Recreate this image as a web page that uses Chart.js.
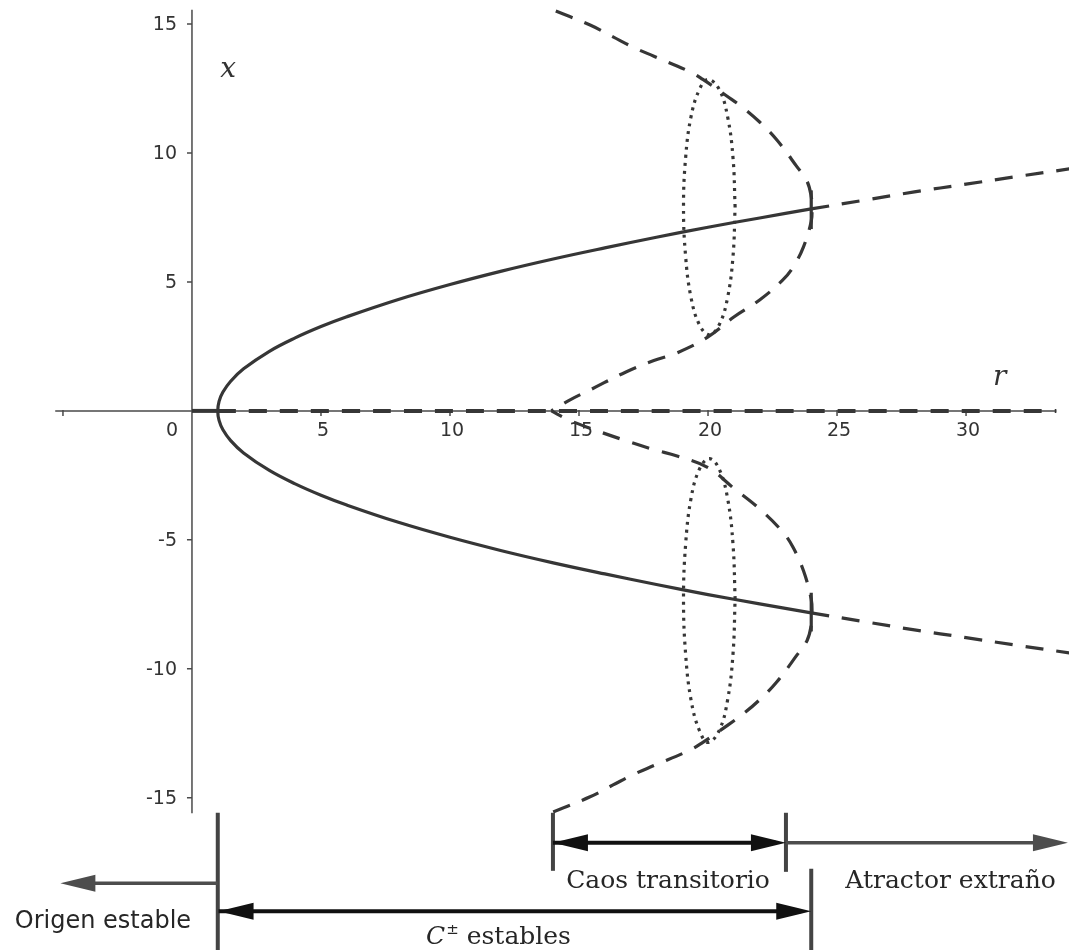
<!DOCTYPE html>
<html>
<head>
<meta charset="utf-8">
<script src="https://cdn.jsdelivr.net/npm/chart.js@4/dist/chart.umd.min.js"></script>
<style>
  html, body { margin: 0; padding: 0; background: #fff; }
  #wrap { width: 1069px; height: 950px; position: relative; }
</style>
</head>
<body>
<div id="wrap"><canvas id="bif"></canvas></div>
<script>
// Lorenz system, fixed points and cycles against r (sigma = 10, b = 8/3)

// origin: stable up to r = 1, unstable after
const rOriginStable = [0, 1];
const xOriginStable = [0, 0];
const rOriginUnstable = [1, 33.5];
const xOriginUnstable = [0, 0];

// C- / C+ stable branch, from the C- tip round r = 1 to the C+ tip
const rStable = [24, 22, 20, 18, 16, 14, 12, 10, 8, 6, 5, 4, 3, 2, 1.5, 1.2, 1.05, 1,
                 1.05, 1.2, 1.5, 2, 3, 4, 5, 6, 8, 10, 12, 14, 16, 18, 20, 22, 24];
const xStable = [-7.83, -7.48, -7.12, -6.73, -6.32, -5.89, -5.42, -4.9, -4.32, -3.65, -3.27, -2.83, -2.31, -1.63, -1.15, -0.73, -0.37, 0,
                 0.37, 0.73, 1.15, 1.63, 2.31, 2.83, 3.27, 3.65, 4.32, 4.9, 5.42, 5.89, 6.32, 6.73, 7.12, 7.48, 7.83];

// C+ and C- past the Hopf point (unstable)
const rUnstable = [24, 26, 28, 30, 32, 34];
const xUnstableUp = [7.83, 8.16, 8.49, 8.79, 9.09, 9.38];
const xUnstableDown = [-7.83, -8.16, -8.49, -8.79, -9.09, -9.38];

// unstable cycles born at the homoclinic point r = 13.93
const rCycleUp = [14.1, 15.43, 16.32, 17.1, 17.9, 19.3, 19.8, 20.74, 21.36, 22.0, 22.67, 23.45, 23.84, 24.0, 24.03,
                  24.0, 23.7, 23.3, 22.9, 22.0, 21.0, 20.0, 18.8, 17.9, 16.8, 15.5, 14.6, 13.93];
const xCycleUp = [15.5, 14.96, 14.5, 14.1, 13.75, 13.15, 12.85, 12.2, 11.75, 11.2, 10.5, 9.46, 8.9, 8.3, 7.8,
                  7.35, 6.36, 5.58, 5.08, 4.3, 3.64, 2.87, 2.25, 1.95, 1.5, 0.85, 0.4, 0];
const rCycleDown = [14.0, 15.43, 16.32, 17.1, 17.9, 19.3, 19.8, 20.74, 21.36, 22.0, 22.67, 23.45, 23.84, 24.0, 24.03,
                    24.0, 23.7, 23.3, 22.9, 22.0, 21.0, 20.0, 18.8, 17.9, 16.8, 15.5, 14.6, 13.93];
const xCycleDown = [-15.55, -14.96, -14.5, -14.1, -13.75, -13.15, -12.85, -12.2, -11.75, -11.2, -10.5, -9.46, -8.9, -8.3, -7.8,
                    -7.3, -6.2, -5.3, -4.7, -3.8, -3.0, -2.2, -1.75, -1.5, -1.15, -0.7, -0.35, 0];

// transient-chaos loops (dotted)
const rLoopUp = [21.05, 20.97, 20.76, 20.43, 20.0, 19.67, 19.34, 19.13, 19.05, 19.13, 19.34, 19.67, 20.05, 20.43, 20.76, 20.97, 21.05];
const xLoopUp = [7.9, 9.79, 11.4, 12.47, 12.85, 12.47, 11.4, 9.79, 7.9, 6.01, 4.4, 3.33, 2.95, 3.33, 4.4, 6.01, 7.9];
const rLoopDown = [21.05, 20.97, 20.76, 20.43, 20.05, 19.67, 19.34, 19.13, 19.05, 19.13, 19.34, 19.67, 20.0, 20.43, 20.76, 20.97, 21.05];
const xLoopDown = [-7.3, -5.2, -3.4, -2.25, -1.85, -2.25, -3.4, -5.2, -7.3, -9.4, -11.2, -12.4, -12.85, -12.4, -11.2, -9.4, -7.3];

// axis ticks
const xTicks = [-5, 5, 10, 15, 20, 25, 30];
const xTickLabels = ['', '5', '10', '15', '20', '25', '30'];
const yTicks = [15, 10, 5, -5, -10, -15];
const yTickLabels = ['15', '10', '5', '-5', '-10', '-15'];

// regimes along r, drawn under the plot
const regimeBars = [
  { r: 1, from: -15.58, to: -21 },
  { r: 13.99, from: -15.58, to: -17.83 },
  { r: 23.02, from: -15.58, to: -17.87 },
  { r: 24, from: -17.75, to: -21 }
];
const regimeArrows = [
  { from: 1, to: -5.1, y: -18.31, color: '#4d4d4d', width: 3.5, heads: 'end' },
  { from: 1.03, to: 24, y: -19.4, color: '#111', width: 4, heads: 'both' },
  { from: 13.99, to: 23.02, y: -16.74, color: '#111', width: 4, heads: 'both' },
  { from: 23.02, to: 33.95, y: -16.74, color: '#4d4d4d', width: 3.5, heads: 'end' }
];
const regimeLabels = [
  { text: 'Origen estable', r: -3.45, y: -20.03, font: '24px "DejaVu Sans"' },
  { text: 'Caos transitorio', r: 18.45, y: -18.5, font: '25px "DejaVu Serif"' },
  { text: 'Atractor extraño', r: 29.4, y: -18.5, font: '25px "DejaVu Serif"' }
];

const X_MIN = -7.44, X_MAX = 33.99;
const Y_MIN = -20.9, Y_MAX = 15.93;
const LINE = '#363636';
const AXIS = '#4a4a4a';
const DASH = [18, 13];

function pts(rs, xs) {
  return rs.map((r, i) => ({ x: r, y: xs[i] }));
}

function curve(rs, xs, dash, width) {
  return {
    data: pts(rs, xs),
    showLine: true,
    borderColor: LINE,
    borderWidth: width || 3.2,
    borderDash: dash || [],
    pointRadius: 0,
    tension: 0.4,
    fill: false
  };
}

const datasets = [
  curve(rOriginStable, xOriginStable, [], 4),
  curve(rOriginUnstable, xOriginUnstable, DASH, 4),
  curve(rStable, xStable),
  curve(rUnstable, xUnstableUp, DASH),
  curve(rUnstable, xUnstableDown, DASH),
  curve(rCycleUp, xCycleUp, DASH),
  curve(rCycleDown, xCycleDown, DASH),
  curve(rLoopUp, xLoopUp, [3, 5]),
  curve(rLoopDown, xLoopDown, [3, 5]),
  // the cycles meet C+ / C- here
  curve([24, 24], [8.55, 7.05]),
  curve([24, 24], [-8.55, -7.05])
];
for (const b of regimeBars) {
  const d = curve([b.r, b.r], [b.from, b.to], [], 4);
  d.borderColor = '#444';
  datasets.push(d);
}

const crossAxes = {
  id: 'crossAxes',
  beforeDatasetsDraw(chart) {
    const { ctx, scales: { x, y } } = chart;
    const px = v => x.getPixelForValue(v);
    const py = v => y.getPixelForValue(v);
    ctx.save();
    ctx.strokeStyle = AXIS;
    ctx.lineWidth = 1.5;
    ctx.beginPath();
    ctx.moveTo(px(-5.3), py(0));
    ctx.lineTo(px(33.5), py(0));
    ctx.moveTo(px(0), py(15.55));
    ctx.lineTo(px(0), py(-15.6));
    for (const t of xTicks) {
      ctx.moveTo(px(t), py(0) - 1);
      ctx.lineTo(px(t), py(0) + 5);
    }
    for (const t of yTicks) {
      ctx.moveTo(px(0) - 5, py(t));
      ctx.lineTo(px(0), py(t));
    }
    ctx.stroke();

    ctx.fillStyle = '#333';
    ctx.font = '19px "DejaVu Sans"';
    ctx.textAlign = 'center';
    ctx.textBaseline = 'top';
    xTicks.forEach((t, i) => ctx.fillText(xTickLabels[i], px(t) + 2, py(0) + 11));
    ctx.fillText('0', px(0) - 20, py(0) + 11);
    ctx.textAlign = 'right';
    ctx.textBaseline = 'middle';
    yTicks.forEach((t, i) => ctx.fillText(yTickLabels[i], px(0) - 15, py(t) + 1));

    ctx.font = 'italic 28px "DejaVu Serif"';
    ctx.textAlign = 'center';
    ctx.textBaseline = 'alphabetic';
    ctx.fillText('x', px(1.4), py(12.95));
    ctx.fillText('r', px(31.3), py(1.0));
    ctx.restore();
  }
};

function arrowHead(ctx, tipX, tipY, dir, len, half) {
  ctx.beginPath();
  ctx.moveTo(tipX, tipY);
  ctx.lineTo(tipX - dir * len, tipY - half);
  ctx.lineTo(tipX - dir * len, tipY + half);
  ctx.closePath();
  ctx.fill();
}

const regimes = {
  id: 'regimes',
  afterDatasetsDraw(chart) {
    const { ctx, scales: { x, y } } = chart;
    const px = v => x.getPixelForValue(v);
    const py = v => y.getPixelForValue(v);
    ctx.save();
    for (const a of regimeArrows) {
      const x0 = px(a.from), x1 = px(a.to), yy = py(a.y);
      const dir = Math.sign(x1 - x0);
      ctx.strokeStyle = a.color;
      ctx.fillStyle = a.color;
      ctx.lineWidth = a.width;
      ctx.beginPath();
      ctx.moveTo(x0, yy);
      ctx.lineTo(x1 - dir * 10, yy);
      ctx.stroke();
      arrowHead(ctx, x1, yy, dir, 35, 8.5);
      if (a.heads === 'both') arrowHead(ctx, x0, yy, -dir, 35, 8.5);
    }

    ctx.fillStyle = '#262626';
    ctx.textAlign = 'center';
    ctx.textBaseline = 'alphabetic';
    for (const l of regimeLabels) {
      ctx.font = l.font;
      ctx.fillText(l.text, px(l.r), py(l.y));
    }

    // C^{\pm} estables
    const base = py(-20.66);
    ctx.font = 'italic 25px "DejaVu Serif"';
    const wC = ctx.measureText('C').width;
    ctx.font = '15px "DejaVu Serif"';
    const wPm = ctx.measureText('±').width;
    ctx.font = '25px "DejaVu Serif"';
    const wRest = ctx.measureText(' estables').width;
    let cx = px(11.86) - (wC + wPm + wRest) / 2;
    ctx.textAlign = 'left';
    ctx.font = 'italic 25px "DejaVu Serif"';
    ctx.fillText('C', cx, base);
    cx += wC + 1;
    ctx.font = '15px "DejaVu Serif"';
    ctx.fillText('±', cx, base - 10);
    cx += wPm;
    ctx.font = '25px "DejaVu Serif"';
    ctx.fillText(' estables', cx, base);
    ctx.restore();
  }
};

new Chart(document.getElementById('bif'), {
  type: 'scatter',
  data: { datasets },
  options: {
    responsive: true,
    maintainAspectRatio: false,
    animation: false,
    layout: { padding: 0 },
    plugins: { legend: { display: false }, tooltip: { enabled: false } },
    scales: {
      x: { type: 'linear', min: X_MIN, max: X_MAX, display: false },
      y: { type: 'linear', min: Y_MIN, max: Y_MAX, display: false }
    }
  },
  plugins: [crossAxes, regimes]
});
</script>
</body>
</html>
